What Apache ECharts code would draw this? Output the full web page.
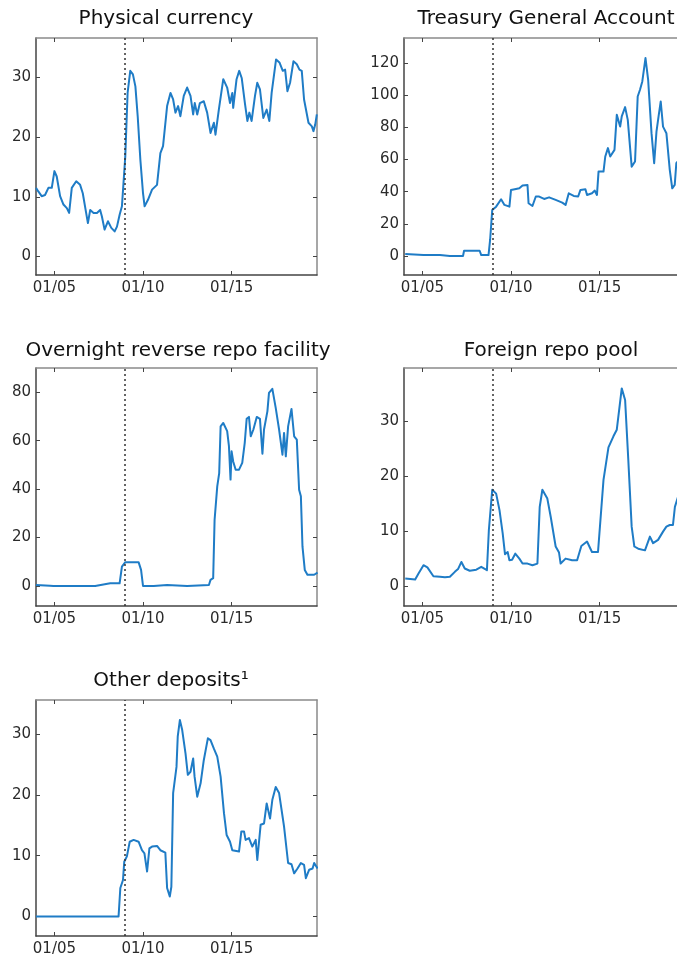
<!DOCTYPE html>
<html>
<head>
<meta charset="utf-8">
<title>Fed liabilities</title>
<script src="https://cdn.jsdelivr.net/npm/echarts@6.0.0/dist/echarts.min.js"></script>
<style>
  html, body { margin: 0; padding: 0; background: #fff; }
  #chart { width: 677px; height: 961px; }
</style>
</head>
<body>
<div id="chart"></div>
<script>
// x values are decimal years, y values in billions
const xTicks = [2005, 2010, 2015];
const crisisDate = 2008.95;

const currencyDates = [2003.96, 2004.09, 2004.28, 2004.47, 2004.66, 2004.85, 2005.00, 2005.13, 2005.32, 2005.51, 2005.70, 2005.83, 2005.98, 2006.23, 2006.45, 2006.60, 2006.79, 2006.89, 2007.02, 2007.21, 2007.40, 2007.58, 2007.68, 2007.83, 2008.02, 2008.21, 2008.40, 2008.53, 2008.68, 2008.81, 2009.00, 2009.13, 2009.28, 2009.43, 2009.57, 2009.70, 2009.85, 2010.00, 2010.09, 2010.28, 2010.51, 2010.79, 2010.98, 2011.13, 2011.36, 2011.55, 2011.70, 2011.83, 2011.98, 2012.11, 2012.30, 2012.49, 2012.68, 2012.83, 2012.92, 2013.06, 2013.21, 2013.43, 2013.62, 2013.81, 2014.00, 2014.09, 2014.28, 2014.53, 2014.75, 2014.91, 2015.04, 2015.09, 2015.28, 2015.43, 2015.57, 2015.75, 2015.89, 2016.00, 2016.13, 2016.32, 2016.45, 2016.60, 2016.79, 2016.98, 2017.13, 2017.26, 2017.51, 2017.70, 2017.89, 2018.02, 2018.15, 2018.30, 2018.49, 2018.68, 2018.83, 2018.96, 2019.09, 2019.34, 2019.53, 2019.62, 2019.72, 2019.81];
const currencyValues = [11.5, 10.9, 10.1, 10.3, 11.5, 11.5, 14.3, 13.4, 10.1, 8.7, 8.1, 7.3, 11.5, 12.6, 12.0, 10.6, 7.3, 5.6, 7.8, 7.3, 7.3, 7.8, 6.7, 4.5, 5.9, 4.8, 4.2, 5.0, 7.0, 8.4, 16.8, 27.4, 31.1, 30.5, 28.5, 23.5, 16.2, 10.6, 8.4, 9.5, 11.2, 12.0, 17.3, 18.5, 25.2, 27.4, 26.3, 24.1, 25.2, 23.5, 26.9, 28.3, 26.9, 23.8, 25.7, 23.8, 25.7, 26.0, 24.1, 20.7, 22.4, 20.4, 24.6, 29.7, 28.3, 25.7, 27.4, 24.9, 29.7, 31.1, 29.9, 25.7, 22.7, 24.1, 22.7, 26.9, 29.1, 28.0, 23.2, 24.6, 22.7, 27.4, 33.0, 32.5, 31.1, 31.3, 27.7, 29.1, 32.7, 32.2, 31.3, 31.1, 26.3, 22.4, 21.8, 21.0, 22.1, 23.8];

const tgaDates = [2004.03, 2005.06, 2005.99, 2006.55, 2007.29, 2007.35, 2008.23, 2008.32, 2008.73, 2008.82, 2008.94, 2009.16, 2009.44, 2009.63, 2009.91, 2010.00, 2010.28, 2010.47, 2010.65, 2010.93, 2010.99, 2011.21, 2011.40, 2011.59, 2011.87, 2012.15, 2012.52, 2012.89, 2013.08, 2013.26, 2013.54, 2013.79, 2013.92, 2014.20, 2014.29, 2014.57, 2014.72, 2014.85, 2014.94, 2015.22, 2015.32, 2015.47, 2015.60, 2015.84, 2015.97, 2016.16, 2016.25, 2016.44, 2016.59, 2016.81, 2017.00, 2017.15, 2017.28, 2017.41, 2017.59, 2017.74, 2017.93, 2018.08, 2018.21, 2018.34, 2018.45, 2018.58, 2018.77, 2018.96, 2019.10, 2019.24, 2019.33, 2019.50];
const tgaValues = [1.2, 0.6, 0.6, 0, 0, 3.3, 3.3, 0.6, 0.6, 10, 28.6, 30.7, 35.3, 31.8, 30.7, 41.1, 41.7, 42.1, 43.8, 44.2, 32.8, 31.1, 37.0, 37.0, 35.5, 36.5, 34.9, 33.2, 31.8, 39.0, 37.4, 37.0, 41.1, 41.5, 38.0, 39.0, 40.7, 38.0, 52.5, 52.5, 61.9, 67.1, 61.9, 66.0, 87.8, 80.5, 86.8, 92.6, 84.7, 55.6, 58.8, 99.2, 103.4, 108.6, 123.1, 109.6, 76.4, 57.7, 77.4, 87.8, 96.1, 80.5, 76.4, 53.6, 42.1, 44.2, 57.7, 60.0];

const rrpDates = [2003.96, 2004.75, 2004.94, 2007.30, 2007.40, 2008.15, 2008.68, 2008.81, 2009.00, 2009.75, 2009.89, 2010.00, 2010.60, 2011.36, 2012.49, 2013.72, 2013.81, 2013.96, 2014.04, 2014.19, 2014.30, 2014.38, 2014.53, 2014.75, 2014.85, 2014.94, 2015.00, 2015.09, 2015.23, 2015.42, 2015.60, 2015.74, 2015.85, 2015.98, 2016.08, 2016.23, 2016.42, 2016.60, 2016.74, 2016.83, 2017.02, 2017.11, 2017.30, 2017.49, 2017.68, 2017.87, 2017.96, 2018.06, 2018.19, 2018.38, 2018.53, 2018.68, 2018.81, 2018.91, 2019.00, 2019.13, 2019.28, 2019.66, 2019.85];
const rrpValues = [0.4, 0.1, 0, 0, 0.8, 1.1, 1.1, 8.0, 9.8, 9.8, 6.6, 0, 0, 0.4, 0, 0.4, 2.5, 3.2, 27.3, 41.1, 46.6, 65.9, 67.3, 63.9, 57.7, 43.9, 55.6, 51.4, 48.0, 48.0, 50.8, 59.0, 69.0, 69.8, 61.8, 64.6, 69.8, 69.0, 54.6, 64.6, 72.1, 79.7, 81.4, 73.5, 64.6, 54.2, 63.2, 53.5, 65.9, 73.1, 61.8, 60.4, 39.7, 37.0, 16.3, 6.6, 4.6, 4.6, 5.5];

const repoPoolDates = [2004.03, 2004.59, 2004.78, 2005.06, 2005.28, 2005.62, 2005.99, 2006.27, 2006.55, 2006.83, 2007.01, 2007.20, 2007.39, 2007.67, 2008.04, 2008.32, 2008.64, 2008.75, 2008.94, 2009.16, 2009.35, 2009.53, 2009.66, 2009.81, 2009.91, 2010.06, 2010.24, 2010.47, 2010.65, 2010.93, 2011.21, 2011.49, 2011.62, 2011.77, 2012.05, 2012.24, 2012.52, 2012.71, 2012.80, 2013.08, 2013.45, 2013.73, 2013.97, 2014.29, 2014.57, 2014.91, 2015.22, 2015.50, 2015.78, 2015.97, 2016.25, 2016.44, 2016.62, 2016.81, 2016.96, 2017.18, 2017.56, 2017.84, 2018.02, 2018.30, 2018.58, 2018.77, 2018.96, 2019.14, 2019.25, 2019.50];
const repoPoolValues = [1.4, 1.2, 2.3, 3.8, 3.4, 1.8, 1.7, 1.6, 1.7, 2.6, 3.1, 4.4, 3.2, 2.8, 3.0, 3.5, 2.9, 10.2, 17.5, 16.8, 13.8, 9.6, 5.8, 6.2, 4.7, 4.8, 5.9, 5.0, 4.1, 4.1, 3.8, 4.1, 14.4, 17.5, 15.9, 12.6, 7.2, 6.1, 4.1, 5.0, 4.7, 4.7, 7.3, 8.1, 6.2, 6.2, 19.3, 25.2, 27.2, 28.4, 35.9, 33.8, 22.9, 10.8, 7.2, 6.8, 6.5, 9.0, 7.8, 8.4, 9.9, 10.8, 11.1, 11.1, 14.4, 17.0];

const otherDates = [2003.96, 2008.62, 2008.72, 2008.87, 2008.94, 2009.09, 2009.25, 2009.47, 2009.75, 2009.94, 2010.08, 2010.23, 2010.36, 2010.51, 2010.79, 2010.98, 2011.26, 2011.36, 2011.51, 2011.60, 2011.70, 2011.89, 2011.96, 2012.08, 2012.21, 2012.40, 2012.53, 2012.68, 2012.83, 2012.91, 2013.06, 2013.25, 2013.43, 2013.66, 2013.81, 2014.00, 2014.19, 2014.38, 2014.57, 2014.72, 2014.91, 2015.04, 2015.42, 2015.55, 2015.70, 2015.79, 2015.98, 2016.17, 2016.36, 2016.45, 2016.64, 2016.83, 2016.98, 2017.17, 2017.30, 2017.49, 2017.68, 2017.96, 2018.19, 2018.38, 2018.53, 2018.72, 2018.91, 2019.09, 2019.19, 2019.38, 2019.57, 2019.66, 2019.85];
const otherValues = [0, 0, 4.7, 6.0, 9.0, 9.9, 12.3, 12.6, 12.3, 10.9, 10.4, 7.4, 11.2, 11.5, 11.6, 10.9, 10.5, 4.7, 3.3, 4.9, 20.3, 24.6, 29.6, 32.3, 30.7, 26.8, 23.3, 23.8, 26.0, 23.0, 19.7, 21.9, 25.7, 29.3, 29.0, 27.6, 26.3, 23.0, 17.0, 13.4, 12.3, 10.9, 10.7, 14.0, 14.0, 12.6, 12.9, 11.5, 12.6, 9.3, 15.1, 15.3, 18.6, 16.1, 19.2, 21.3, 20.3, 14.8, 8.8, 8.6, 7.1, 7.9, 8.8, 8.5, 6.3, 7.7, 7.9, 8.8, 7.9];

const panelTitles = ['Physical currency', 'Treasury General Account', 'Overnight reverse repo facility', 'Foreign repo pool', 'Other deposits\u00b9'];
const yTicks = [
  [0, 10, 20, 30],
  [0, 20, 40, 60, 80, 100, 120],
  [0, 20, 40, 60, 80],
  [0, 10, 20, 30],
  [0, 10, 20, 30]
];

// layout of each panel (px)
const panels = [
  { left: 36, top: 38, height: 237, ymin: -3.1, ymax: 36.6, titleX: 161, titleY: 4, dates: currencyDates, values: currencyValues },
  { left: 404, top: 38, height: 237, ymin: -11.8, ymax: 135.6, titleX: 541, titleY: 4, dates: tgaDates, values: tgaValues },
  { left: 36, top: 368, height: 238, ymin: -8.3, ymax: 90, titleX: 173, titleY: 336, dates: rrpDates, values: rrpValues },
  { left: 404, top: 368, height: 238, ymin: -3.6, ymax: 39.6, titleX: 546, titleY: 336, dates: repoPoolDates, values: repoPoolValues },
  { left: 36, top: 700, height: 236, ymin: -3.2, ymax: 35.6, titleX: 166, titleY: 666, dates: otherDates, values: otherValues }
];

const xMin = 2003.96;
const xMax = 2019.82;
const fontFamily = 'DejaVu Sans';
const darkAxis = '#444';
const lightAxis = '#8a8a8a';

const chart = echarts.init(document.getElementById('chart'), null, { renderer: 'canvas' });

const grid = [];
const xAxis = [];
const yAxis = [];
const series = [];
const title = [];

panels.forEach(function (p, i) {
  grid.push({ left: p.left, top: p.top, width: 281, height: p.height, outerBoundsMode: 'none', containLabel: false });

  title.push({
    text: panelTitles[i],
    left: p.titleX,
    top: p.titleY,
    textAlign: 'center',
    textStyle: { fontFamily: fontFamily, fontSize: 20, fontWeight: 'normal', color: '#111' }
  });

  // bottom axis with labels
  xAxis.push({
    gridIndex: i, type: 'value', position: 'bottom', min: xMin, max: xMax,
    axisLine: { onZero: false, lineStyle: { color: darkAxis, width: 1.5 } },
    axisTick: { inside: true, length: 4, customValues: xTicks, lineStyle: { color: darkAxis } },
    axisLabel: {
      customValues: xTicks, margin: 6, fontSize: 15, color: '#2a2a2a', fontFamily: fontFamily,
      formatter: function (v) { return '01/' + String(v).slice(2); }
    },
    splitLine: { show: false }
  });
  // top mirror, only ticks
  xAxis.push({
    gridIndex: i, type: 'value', position: 'top', min: xMin, max: xMax,
    axisLine: { onZero: false, lineStyle: { color: lightAxis, width: 1.5 } },
    axisTick: { inside: true, length: 4, customValues: xTicks, lineStyle: { color: darkAxis } },
    axisLabel: { show: false },
    splitLine: { show: false }
  });

  yAxis.push({
    gridIndex: i, type: 'value', position: 'left', min: p.ymin, max: p.ymax,
    axisLine: { show: true, onZero: false, lineStyle: { color: darkAxis, width: 1.5 } },
    axisTick: { show: true, inside: true, length: 4, customValues: yTicks[i], lineStyle: { color: darkAxis } },
    axisLabel: { customValues: yTicks[i], margin: 5, fontSize: 15, color: '#2a2a2a', fontFamily: fontFamily },
    splitLine: { show: false }
  });
  yAxis.push({
    gridIndex: i, type: 'value', position: 'right', min: p.ymin, max: p.ymax,
    axisLine: { show: true, onZero: false, lineStyle: { color: lightAxis, width: 1.5 } },
    axisTick: { show: true, inside: true, length: 4, customValues: yTicks[i], lineStyle: { color: darkAxis } },
    axisLabel: { show: false },
    splitLine: { show: false }
  });

  series.push({
    type: 'line',
    xAxisIndex: i * 2,
    yAxisIndex: i * 2,
    data: p.dates.map(function (d, k) { return [d, p.values[k]]; }),
    showSymbol: false,
    smooth: false,
    lineStyle: { color: '#1f7cc6', width: 2, join: 'round' },
    itemStyle: { color: '#1f7cc6' },
    markLine: {
      silent: true,
      symbol: 'none',
      label: { show: false },
      lineStyle: { color: '#333', width: 1.5, type: [2, 3] },
      data: [{ xAxis: crisisDate }]
    },
    z: 3
  });
});

chart.setOption({
  animation: false,
  backgroundColor: '#fff',
  title: title,
  grid: grid,
  xAxis: xAxis,
  yAxis: yAxis,
  series: series
});

window.addEventListener('resize', function () { chart.resize(); });
</script>
</body>
</html>
